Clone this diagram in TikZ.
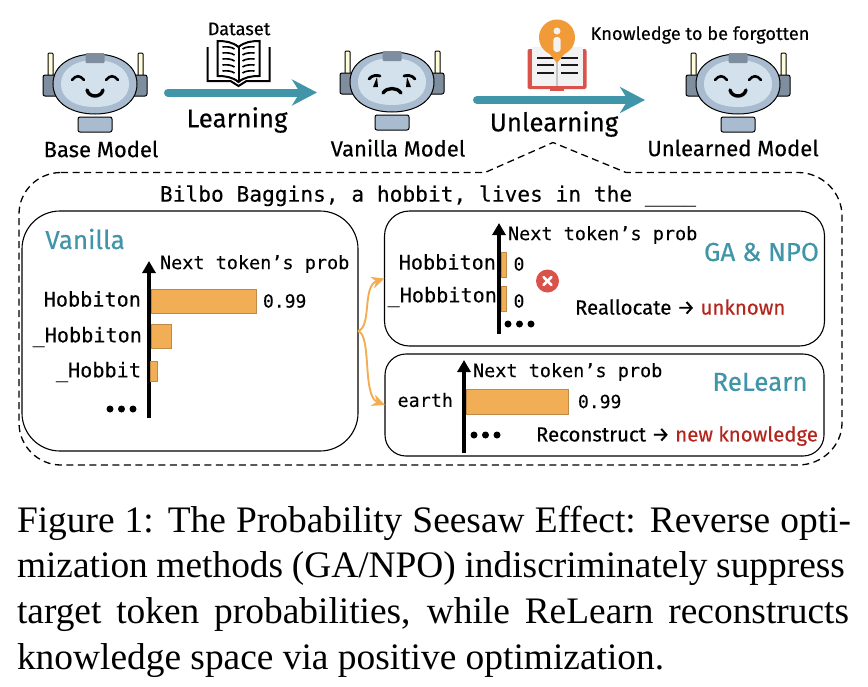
\documentclass[tikz,border=0pt]{standalone}
\usepackage{fontspec}
\setmainfont{Liberation Serif}
\setsansfont{Fira Sans}[FakeBold=0.35]
\setmonofont{DejaVu Sans Mono}[FakeBold=0.15]
\usetikzlibrary{arrows.meta, positioning}
\definecolor{tealc}{HTML}{4195A8}
\definecolor{barc}{HTML}{F2AE55}
\definecolor{barl}{HTML}{BF8A48}
\definecolor{redt}{HTML}{B3261E}
\definecolor{ringc}{HTML}{A9BBCE}
\definecolor{facec}{HTML}{D3E1EC}
\definecolor{earc}{HTML}{7F8E9E}
\definecolor{coverc}{HTML}{D9534A}
\definecolor{pinc}{HTML}{F19A38}
\newcommand{\fs}[1]{\fontsize{#1}{#1}\selectfont}
\tikzset{
    every node/.style={inner sep=0pt, outer sep=0pt},
    panel/.style={draw,line width=1.1pt,minimum width=#1},
    tealarrow/.style={draw=tealc,line width=8pt,line cap=round,-{Stealth[length=25pt,width=26pt,inset=8pt]}},
    axis/.style={line width=4pt,-{Triangle[length=12pt,width=13pt]}},
    flow/.style={draw=barc,line width=1.9pt,-{Stealth[length=13pt,width=12pt]}},
    barbox/.style={draw=barl,fill=barc,line width=.8pt,anchor=west,minimum height=24pt},
    token/.style={font=\ttfamily\fs{20.2}},
    probtext/.style={font=\ttfamily\fs{18.5},anchor=west},
    valtext/.style={font=\ttfamily\fs{18}},
    titletext/.style={font=\sffamily\fs{26},text=tealc},
    modeltext/.style={font=\sffamily\fs{22}},
    steptext/.style={font=\sffamily\fs{25.8}},
    notetext/.style={font=\sffamily\fs{18.2}},
    ruletext/.style={font=\sffamily\fs{20.4},anchor=west},
    dot/.style={circle,fill=black,minimum size=7pt},
    robot/.pic={
        \draw[line width=1pt,fill=white!85!yellow,rounded corners=1pt] (-47,-31) rectangle (-42,-6);
        \draw[line width=1pt,fill=white!85!yellow,rounded corners=1pt] (43,-31) rectangle (48,-6);
        \draw[line width=1pt,fill=earc,rounded corners=2pt] (-52,-9) rectangle (52,12);
        \draw[line width=1pt,fill=ringc] (-42,0) .. controls (-42,-20) and (-22,-30) .. (0,-30)
            .. controls (22,-30) and (42,-20) .. (42,0)
            .. controls (42,20) and (22,30) .. (0,30)
            .. controls (-22,30) and (-42,20) .. (-42,0) -- cycle;
        \fill[facec] (-34,0) .. controls (-34,-16) and (-18,-24) .. (0,-24)
            .. controls (18,-24) and (34,-16) .. (34,0)
            .. controls (34,16) and (18,23) .. (0,23)
            .. controls (-18,23) and (-34,16) .. (-34,0) -- cycle;
        \fill[earc,rounded corners=1pt] (-9.5,-31) rectangle (9.5,-21);
        \draw[line width=1pt,fill=ringc,rounded corners=2pt] (-17,33) rectangle (17,48);
    },
    facehappy/.pic={
        \draw[line width=2.6pt,line cap=round] (-23,-4) .. controls (-19,-9) and (-15,-9) .. (-11,-4);
        \draw[line width=2.6pt,line cap=round] (11,-4) .. controls (15,-9) and (19,-9) .. (23,-4);
        \draw[line width=3.4pt,line cap=round] (-8,6) .. controls (-6,14) and (6,14) .. (8,6);
    },
    facesad/.pic={
        \draw[line width=2.8pt,line cap=round] (-23,-3) .. controls (-20,-7) and (-15,-7) .. (-12,-6);
        \draw[line width=2.8pt,line cap=round] (12,-6) .. controls (15,-7) and (20,-7) .. (23,-3);
        \fill (-15,-5) -- (-19,5) -- (-14,5) -- cycle;
        \fill (15,-5) -- (19,5) -- (14,5) -- cycle;
        \draw[line width=3.4pt,line cap=round] (-9,11) .. controls (-5,5) and (5,5) .. (9,11);
    },
    databook/.pic={
        % covers
        \draw[line width=2pt,fill=white] (-31,-22) -- (-31,12) -- (-8,12) -- (0,17) -- (8,12) -- (31,12) -- (31,-22);
        \draw[line width=2pt,fill=white] (0,-22) .. controls (-6,-27) and (-13,-28) .. (-21,-28) -- (-21,7) .. controls (-13,7) and (-6,8) .. (0,13) .. controls (6,8) and (13,7) .. (21,7) -- (21,-28) .. controls (13,-28) and (6,-27) .. (0,-22) -- cycle;
        \draw[line width=2pt] (0,-22) -- (0,13);
        % text lines
        \foreach \yy in {-22,-16,-10,-4,2}{
            \draw[line width=1.6pt] (-16,\yy) .. controls (-11,\yy-.5) and (-7,\yy) .. (-4,\yy+2);
            \draw[line width=1.6pt] (16,\yy) .. controls (11,\yy-.5) and (7,\yy) .. (4,\yy+2);
        }
    },
    forgetbook/.pic={
        \fill[coverc,rounded corners=2pt] (-29.5,-20) rectangle (29.5,20);
        \fill[coverc] (-7,18) rectangle (7,22);
        \fill[gray!10] (-25.5,-22) rectangle (25.5,17);
        \fill[gray!45] (-1,-22) rectangle (1,17);
        \foreach \yy in {-11,-4,4}{
            \draw[gray!20!black,line width=1.3pt] (-20,\yy) -- (-3,\yy);
            \draw[gray!20!black,line width=1.3pt] (4,\yy) -- (21,\yy);
        }
        \fill[pinc] (0,-31.5) circle (18);
        \fill[pinc] (-9,-17) -- (0,-6) -- (9,-17) -- cycle;
        \fill[gray!10] (0,-38) circle (3.5);
        \fill[gray!10,rounded corners=3pt] (-3.6,-32) rectangle (3.6,-17);
    },
}

\begin{document}
\begin{tikzpicture}[x=1pt,y=-1pt]
    \useasboundingbox (0,0) rectangle (868,686);

    % top row
    \pic at (95,84) {robot};
    \pic at (95,84) {facehappy};
    \pic at (392,82) {robot};
    \pic at (392,82) {facesad};
    \pic at (738,84) {robot};
    \pic at (738,84) {facehappy};
    \node[modeltext] (basename) at (101,149) {Base Model};
    \node[modeltext] (vanillaname) at (398,148) {Vanilla Model};
    \node[modeltext] (unlearnedname) at (733,148) {Unlearned Model};

    \coordinate (learnfrom) at (168,92.5);
    \coordinate (learnto) at (317,92.5);
    \draw[tealarrow] (learnfrom) -- (learnto);
    \node[steptext] (learning) at (237,120) {Learning};
    \node[notetext] (dataset) at (239,29) {Dataset};
    \pic at (238.5,69) {databook};

    \coordinate (unlearnfrom) at (477,100);
    \coordinate (unlearnto) at (645,100);
    \draw[tealarrow] (unlearnfrom) -- (unlearnto);
    \node[steptext] (unlearning) at (554,124) {Unlearning};
    \node[notetext] (forgotten) at (700,35) {Knowledge to be forgotten};
    \pic at (557,69) {forgetbook};

    % dashed outline
    \draw[line width=1.3pt,dash pattern=on 7pt off 4.5pt]
        (61,172.5) -- (485,172.5) -- (553,142.5) -- (626,172.5) -- (798,172.5)
        .. controls (822,172.5) and (842,192) .. (842,216) -- (842,423)
        .. controls (842,446) and (822,465) .. (798,465) -- (61,465)
        .. controls (38,465) and (19,446) .. (19,423) -- (19,214)
        .. controls (19,191) and (38,172.5) .. (61,172.5) -- cycle;
    \node[font=\ttfamily\fs{21.2}] (prompt) at (428,196) {Bilbo Baggins, a hobbit, lives in the \_\_\_\_};

    % panels
    \node[panel=336pt,minimum height=240pt,rounded corners=38pt] (vanilla) at (190,331) {};
    \node[panel=440pt,minimum height=135pt,rounded corners=25pt] (ganpo) at (604.5,278.5) {};
    \node[panel=439pt,minimum height=102pt,rounded corners=21pt] (relearn) at (604.5,405) {};
    \draw[flow] (vanilla.east) .. controls (372,327) and (362,286) .. (ganpo.west);
    \draw[flow] (vanilla.east) .. controls (372,335) and (362,396) .. (relearn.west);

    % vanilla panel
    \node[titletext] (vanillatitle) at (85,239) {Vanilla};
    \coordinate (axisa) at (149,418);
    \coordinate (axisatop) at (149,261);
    \draw[axis] (axisa) -- (axisatop);
    \node[probtext] (probh) at (160,264) {Next token’s prob};
    \node[barbox,minimum width=105pt] (bara) at (151,301) {};
    \node[barbox,minimum width=20pt] (barb) at (151,336) {};
    \node[barbox,minimum width=7pt,minimum height=20pt] (barc) at (150,371) {};
    \node[token,anchor=east] (toka) at (141,299) {Hobbiton};
    \node[token,anchor=east] (tokb) at (142,337) {\_Hobbiton};
    \node[token,anchor=east] (tokc) at (141,372) {\_Hobbit};
    \node[valtext,right=7pt of bara] (vala) {0.99};
    \node[dot] (dota) at (110,409) {};
    \node[dot,right=4.5pt of dota] (dotb) {};
    \node[dot,right=4.5pt of dotb] (dotc) {};

    % ga and npo panel
    \node[titletext] (gatitle) at (761.5,252) {GA \& NPO};
    \coordinate (axisb) at (499,334);
    \coordinate (axisbtop) at (499,223);
    \draw[axis] (axisb) -- (axisbtop);
    \node[probtext] (probg) at (508,235) {Next token’s prob};
    \node[barbox,minimum width=5.5pt,minimum height=25pt] (bard) at (501,264.5) {};
    \node[barbox,minimum width=5.5pt,minimum height=25pt] (bare) at (501,298.5) {};
    \node[token,anchor=east] (tokd) at (496,262) {Hobbiton};
    \node[token,anchor=east] (toke) at (497,297) {\_Hobbiton};
    \node[valtext] (vald) at (519,264) {0};
    \node[valtext] (vale) at (519,301) {0};
    \node[circle,fill=coverc,minimum size=23pt] (cross) at (547.5,281) {};
    \draw[white,line width=2.6pt,line cap=round] ([shift={(-4,-4)}]cross.center) -- ([shift={(4,4)}]cross.center);
    \draw[white,line width=2.6pt,line cap=round] ([shift={(-4,4)}]cross.center) -- ([shift={(4,-4)}]cross.center);
    \node[dot] (dotd) at (508,324) {};
    \node[dot,right=4.5pt of dotd] (dote) {};
    \node[dot,right=4.5pt of dote] (dotf) {};
    \node[ruletext] (realloc) at (575,307) {Reallocate → \textcolor{redt}{unknown}};

    % relearn panel
    \node[titletext] (relearntitle) at (760,382) {ReLearn};
    \coordinate (axisc) at (464,453);
    \coordinate (axisctop) at (464,360);
    \draw[axis] (axisc) -- (axisctop);
    \node[probtext] (probr) at (473,372) {Next token’s prob};
    \node[barbox,minimum width=102pt,minimum height=25pt] (barf) at (466,401.5) {};
    \node[token,font=\ttfamily\fs{18.4},anchor=east] (tokf) at (453,400) {earth};
    \node[valtext,right=10pt of barf] (valf) {0.99};
    \node[dot] (dotg) at (474,435) {};
    \node[dot,right=4.5pt of dotg] (doth) {};
    \node[dot,right=4.5pt of doth] (doti) {};
    \node[ruletext] (reconst) at (536,436) {Reconstruct → \textcolor{redt}{new knowledge}};

    % caption
    \node[anchor=north west,align=left,font=\rmfamily\fontsize{37.4}{45.6}\selectfont] (caption) at (17,506)
        {\makebox[834pt][s]{Figure 1: The Probability Seesaw Effect: Reverse opti-}\\
         \makebox[828pt][s]{mization methods (GA/NPO) indiscriminately suppress}\\
         \makebox[832pt][s]{target token probabilities, while ReLearn reconstructs}\\
         knowledge space via positive optimization.};
\end{tikzpicture}
\end{document}
